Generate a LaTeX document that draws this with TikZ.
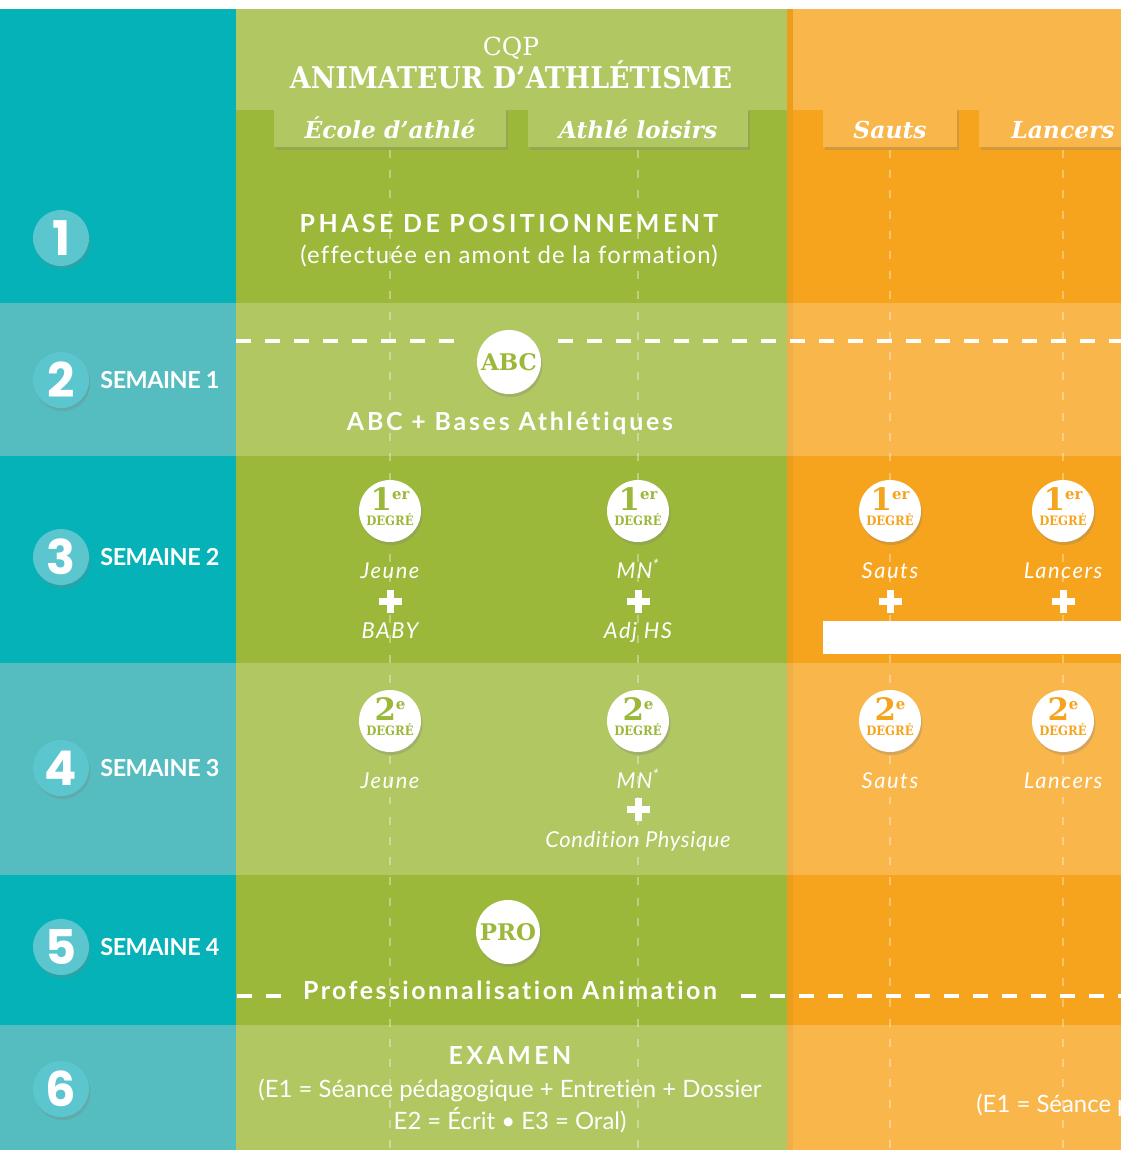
\documentclass[tikz,border=0pt]{standalone}
\usepackage{fontspec}
\setmainfont{Lato}[Ligatures=NoCommon]
\newfontfamily\slab{DejaVu Serif}
\newfontfamily\slabnarrow{DejaVu Serif}[FakeStretch=0.9]
\newfontfamily\numfont{Poppins}
\usetikzlibrary{shadows}

\definecolor{tealdark}{HTML}{05B2B7}
\definecolor{teallight}{HTML}{55BDC0}
\definecolor{tealcirc}{HTML}{5CC6CF}
\definecolor{greendark}{HTML}{9BB83A}
\definecolor{greenlight}{HTML}{B0C762}
\definecolor{orangedark}{HTML}{F6A41E}
\definecolor{orangelight}{HTML}{F9B64B}

% sizes given in pixels of the drawing (1px = 0.02cm)
\newcommand\pxfont[1]{\fontsize{\fpeval{#1*0.5669}}{\fpeval{#1*0.68}}\selectfont}
\newcommand\track[1]{\addfontfeature{LetterSpace=#1}}
% degree badge: name, x, y, number, exponent, colour
\newcommand\degre[6]{%
  \node[degcirc] (#1) at (#2,#3) {};
  \node[anchor=base,inner sep=0pt,text=#6,font=\slab\bfseries\pxfont{31}] (#1-num)
    at ([yshift=0.01cm]#1.center) {#4\raisebox{0.22cm}{\pxfont{15}#5}};
  \node[anchor=base,inner sep=0pt,text=#6,font=\slabnarrow\bfseries\pxfont{13}] (#1-deg)
    at ([yshift=-0.29cm]#1.center) {DEGRÉ};
}

\begin{document}
\begin{tikzpicture}[x=0.02cm,y=-0.02cm,
    shade/.style={drop shadow={shadow xshift=0.03cm,shadow yshift=-0.06cm,opacity=0.3}},
    numcirc/.style={circle,fill=tealcirc,minimum size=1.12cm,inner sep=0pt,shade,
      text=white,font=\numfont\bfseries\pxfont{48}},
    semtext/.style={anchor=west,inner sep=0pt,text=white,font=\bfseries\pxfont{23.5}\track{-2}},
    whitecirc/.style={circle,fill=white,minimum size=1.28cm,inner sep=0pt,shade,
      text=greendark,font=\slab\bfseries\pxfont{23}},
    degcirc/.style={circle,fill=white,minimum size=1.24cm,inner sep=0pt,shade},
    title/.style={anchor=base,inner sep=0pt,text=white,font=\bfseries\pxfont{25}\track{14}},
    ital/.style={anchor=base,inner sep=0pt,text=white,font=\itshape\pxfont{22}\track{7}},
    body/.style={anchor=base,inner sep=0pt,text=white,font=\pxfont{24}},
    tablabel/.style={anchor=base,inner sep=0pt,text=white,font=\slab\bfseries\itshape\pxfont{23.5}},
    vdash/.style={white,opacity=0.35,line width=1.2pt,dash pattern=on 4.5pt off 7pt},
    hdash/.style={white,line width=2.3pt,dash pattern=on 8.5pt off 8pt},
    plussign/.pic={\fill[white] (-11.5,-3.5) rectangle (11.5,3.5);
      \fill[white] (-3.5,-11.5) rectangle (3.5,11.5);}]
    \useasboundingbox (0,0) rectangle (1121,1150);
    \clip (0,0) rectangle (1121,1150);
    \fill[white] (0,0) rectangle (1121,9);

    % Rows %
    \foreach \ya/\yb/\tone in {9/303/dark,303/456/light,456/663/dark,663/875/light,875/1025/dark,1025/1150/light}{
      \fill[teal\tone] (0,\ya) rectangle (236,\yb);
      \fill[green\tone] (236,\ya) rectangle (787,\yb);
      \fill[orange\tone] (787,\ya) rectangle (1121,\yb);
    }
    \fill[black,opacity=0.04] (787,9) rectangle (793,1150);

    % Header %
    \fill[greenlight] (236,9) rectangle (787,110);
    \fill[orangelight] (793,9) rectangle (1121,110);
    \fill[greenlight,shade] (274,108) rectangle (506,147);
    \fill[greenlight,shade] (528,108) rectangle (748,147);
    \fill[orangelight,shade] (823,108) rectangle (957,147);
    \fill[orangelight,shade] (979,108) rectangle (1125,147);
    \node[anchor=base,inner sep=0pt,text=white,font=\slab\pxfont{25}] (cqp) at (511,55) {CQP};
    \node[anchor=base,inner sep=0pt,text=white,font=\slabnarrow\bfseries\pxfont{30}] (metier) at (511,88) {ANIMATEUR D’ATHLÉTISME};
    \node[tablabel] (ecole) at (390,138) {École d’athlé};
    \node[tablabel] (loisirs) at (638,138) {Athlé loisirs};
    \node[tablabel] (sauts) at (890,138) {Sauts};
    \node[tablabel] (lancers) at (1063,138) {Lancers};

    % Dashed lines %
    \foreach \xx in {390,638,890,1063}
      \draw[vdash] (\xx,150) -- (\xx,1150);
    \draw[hdash] (236,341) -- (460,341);
    \draw[hdash] (558,341) -- (1121,341);
    \draw[hdash] (237,996) -- (285,996);
    \draw[hdash] (741,996) -- (1121,996);
    \fill[white] (823,621) rectangle (1121,654);

    % Steps %
    \foreach \n/\yy in {1/238,2/380,3/557,4/768,5/947,6/1089}
      \node[numcirc] (step\n) at (61,\yy) {\n};
    \node[semtext] (sem1) at (100,380) {SEMAINE 1};
    \node[semtext] (sem2) at (100,557) {SEMAINE 2};
    \node[semtext] (sem3) at (100,768) {SEMAINE 3};
    \node[semtext] (sem4) at (100,947) {SEMAINE 4};

    % Row 1 %
    \node[title] (phase) at (509,232) {PHASE DE POSITIONNEMENT};
    \node[body,font=\pxfont{24}\track{5}] (amont) at (509,263) {(effectuée en amont de la formation)};

    % Row 2 %
    \node[whitecirc] (abc) at (509,362) {ABC};
    \node[title,font=\bfseries\pxfont{25}\track{11}] (bases) at (510,430) {ABC + Bases Athlétiques};

    % Row 3 %
    \degre{jeune1}{390}{511}{1}{er}{greendark}
    \degre{mn1}{638}{511}{1}{er}{greendark}
    \degre{sauts1}{890}{511}{1}{er}{orangedark}
    \degre{lancers1}{1063}{511}{1}{er}{orangedark}
    \node[ital] (jeune1-t) at (390,578) {Jeune};
    \node[ital] (baby) at (390,638) {BABY};
    \node[ital] (mn1-t) at (638,578) {MN\textsuperscript{*}};
    \node[ital] (adj) at (638,638) {Adj HS};
    \node[ital] (sauts1-t) at (890,578) {Sauts};
    \node[ital] (lancers1-t) at (1063,578) {Lancers};
    \foreach \xx in {390,638,890,1063}
      \pic at (\xx,601) {plussign};

    % Row 4 %
    \degre{jeune2}{390}{721}{2}{e}{greendark}
    \degre{mn2}{638}{721}{2}{e}{greendark}
    \degre{sauts2}{890}{721}{2}{e}{orangedark}
    \degre{lancers2}{1063}{721}{2}{e}{orangedark}
    \node[ital] (jeune2-t) at (390,788) {Jeune};
    \node[ital] (mn2-t) at (638,788) {MN\textsuperscript{*}};
    \node[ital,font=\itshape\pxfont{22}\track{3}] (condition) at (638,847) {Condition Physique};
    \node[ital] (sauts2-t) at (890,788) {Sauts};
    \node[ital] (lancers2-t) at (1063,788) {Lancers};
    \pic at (638,809) {plussign};

    % Row 5 %
    \node[whitecirc] (pro) at (508,932) {PRO};
    \node[title,font=\bfseries\pxfont{25}\track{10}] (animation) at (510,999) {Professionnalisation Animation};

    % Row 6 %
    \node[title,font=\bfseries\pxfont{25}\track{14}] (examen) at (510,1064) {EXAMEN};
    \node[body] (epreuves) at (510,1097) {(E1 = Séance pédagogique + Entretien + Dossier};
    \node[body] (ecrit) at (510,1129) {E2 = Écrit • E3 = Oral)};
    \node[body,anchor=base west] (epreuves2) at (976,1112) {(E1 = Séance pédagogique + Entretien + Dossier};
\end{tikzpicture}
\end{document}
